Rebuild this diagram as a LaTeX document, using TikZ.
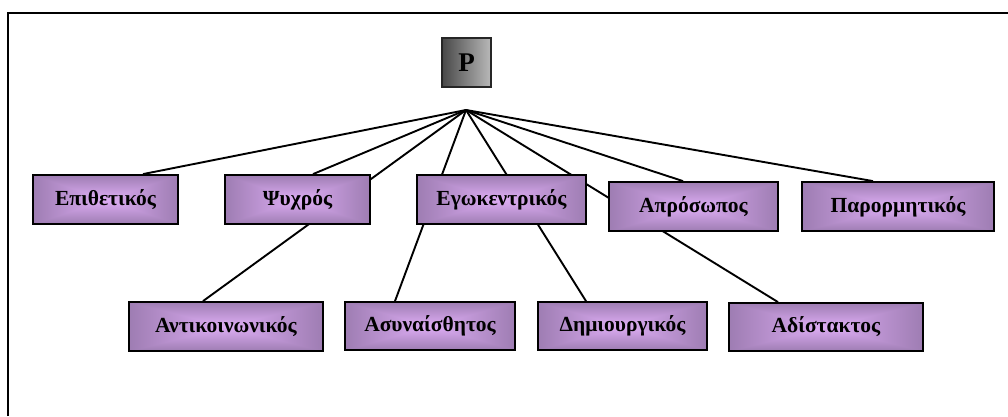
\documentclass[tikz,border=0pt]{standalone}
\usepackage{fontspec}
\setmainfont{Liberation Serif}
\usetikzlibrary{backgrounds,shadings}
\pgfdeclarefunctionalshading{rectglow}{\pgfpoint{-50bp}{-50bp}}{\pgfpoint{50bp}{50bp}}{}{
 abs exch abs 2 copy lt {exch} if pop 50 div
 dup dup 0.50 mul 0.87 exch sub 3 1 roll 0.38 mul 0.68 exch sub exch 0.52 mul 0.96 exch sub
}
\definecolor{gD}{RGB}{72,72,72}
\definecolor{gL}{RGB}{185,185,185}
\tikzset{
  box/.style={draw=black, line width=1.8pt, shading=rectglow, inner sep=0pt,
    minimum height=49pt, font=\fontsize{21.5}{25}\selectfont\bfseries},
  pbox/.style={draw=black!85, line width=1.6pt, inner sep=0pt, minimum width=49pt, minimum height=49pt,
    left color=gD, right color=gL,
    font=\fontsize{27}{30}\selectfont\bfseries},
  link/.style={line width=1.9pt, black},
  frame/.style={line width=2.2pt, black}
}
\begin{document}
\begin{tikzpicture}[x=1pt,y=1pt]
\useasboundingbox (0,0) rectangle (1008,416);
\draw[frame] (8,0) -- (8,403) -- (1008,403);
\node[pbox] (P) at (466.5,353.5) {P};
\coordinate (hub) at (466,306);
\node[box, minimum width=145pt] (epi) at (105.5,216.5) {Επιθετικός};
\node[box, minimum width=145pt] (psy) at (297.5,216.5) {Ψυχρός};
\node[box, minimum width=169pt] (ego) at (501.5,216.5) {Εγωκεντρικός};
\node[box, minimum width=169pt] (apr) at (693.5,209.5) {Απρόσωπος};
\node[box, minimum width=192pt] (par) at (898,209.5) {Παρορμητικός};
\node[box, minimum width=194pt, minimum height=49pt] (ant) at (226,89.5) {Αντικοινωνικός};
\node[box, minimum width=170pt, minimum height=48pt] (asy) at (430,90) {Ασυναίσθητος};
\node[box, minimum width=169pt, minimum height=48pt] (dim) at (622.5,90) {Δημιουργικός};
\node[box, minimum width=194pt, minimum height=48pt] (adi) at (826,89) {Αδίστακτος};
\begin{scope}[on background layer]
\draw[link] (hub) -- ([xshift=37.5pt]epi.north);
\draw[link] (hub) -- ([xshift=15.5pt]psy.north);
\draw[link] (hub) -- ([xshift=-23pt]ant.north);
\draw[link] (hub) -- ([xshift=-35pt]asy.north);
\draw[link] (hub) -- ([xshift=-36.5pt]dim.north);
\draw[link] (hub) -- ([xshift=-48pt]adi.north);
\draw[link] (hub) -- ([xshift=-10.5pt]apr.north);
\draw[link] (hub) -- ([xshift=-25pt]par.north);
\end{scope}
\end{tikzpicture}
\end{document}
